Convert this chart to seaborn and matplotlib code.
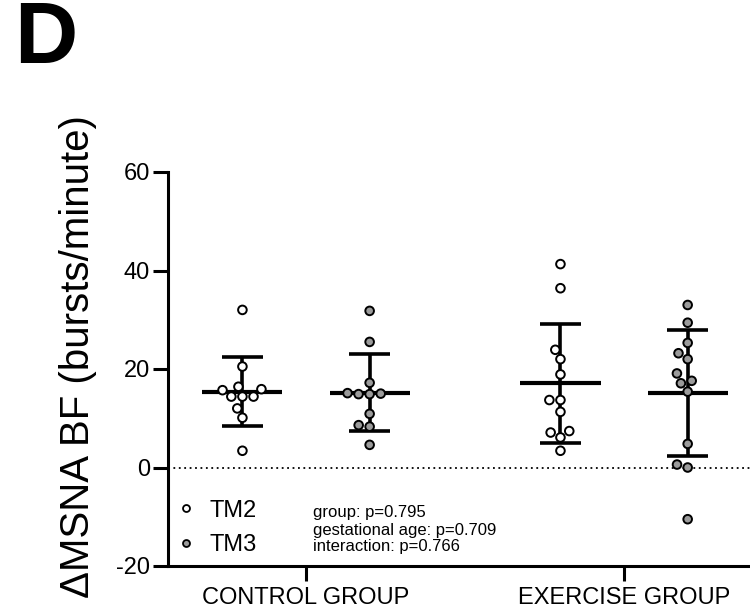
import numpy as np
import pandas as pd
import matplotlib
matplotlib.use("Agg")
import matplotlib.pyplot as plt
from matplotlib.lines import Line2D
import seaborn as sns

# Change in MSNA burst frequency per participant, by group and timepoint
groups = ["CONTROL GROUP", "EXERCISE GROUP"]
timepoints = ["TM2", "TM3"]

control_tm2 = [32.0, 20.5, 15.7, 15.9, 16.4, 14.4, 14.4, 14.4, 12.0, 10.1, 3.4]
control_tm3 = [31.8, 25.5, 17.2, 14.9, 15.0, 14.9, 15.1, 10.9, 8.6, 8.3, 4.6]
exercise_tm2 = [41.3, 36.4, 23.9, 22.0, 18.9, 13.7, 13.7, 11.3, 7.4, 7.1, 6.1, 3.4]
exercise_tm3 = [33.0, 29.4, 25.3, 23.2, 22.0, 19.1, 17.6, 17.1, 15.4, 4.8, 0.6, 0.0, -10.5]

y_ticks = [-20, 0, 20, 40, 60]
stats_lines = ["group: p=0.795", "gestational age: p=0.709", "interaction: p=0.766"]

series = {
    ("CONTROL GROUP", "TM2"): control_tm2,
    ("CONTROL GROUP", "TM3"): control_tm3,
    ("EXERCISE GROUP", "TM2"): exercise_tm2,
    ("EXERCISE GROUP", "TM3"): exercise_tm3,
}
rows = [(g, t, v) for (g, t), vals in series.items() for v in vals]
df = pd.DataFrame(rows, columns=["group", "time", "value"])

sns.set_theme(style="ticks")
plt.rcParams["font.family"] = ["Liberation Sans", "DejaVu Sans"]
plt.rcParams["axes.unicode_minus"] = False
for key in ("text.color", "axes.labelcolor", "xtick.color", "ytick.color", "axes.edgecolor"):
    plt.rcParams[key] = "black"

W, H = 750, 613
fig = plt.figure(figsize=(W / 100, H / 100), dpi=100)
ax = fig.add_axes([168 / W, 1 - 566 / H, 1 - 168 / W, (566 - 172) / H])

fill = {"TM2": "white", "TM3": "#9b9b9b"}

sns.swarmplot(data=df, x="group", y="value", hue="time", order=groups,
              hue_order=timepoints, dodge=True, palette=fill, size=6.2,
              edgecolor="black", linewidth=1.4, legend=False, zorder=3, ax=ax)

# mean +/- SD bars behind the points
dodge = 0.2
for gi, g in enumerate(groups):
    for ti, t in enumerate(timepoints):
        vals = np.asarray(series[(g, t)])
        m, sd = vals.mean(), vals.std(ddof=1)
        x = gi + (-dodge if ti == 0 else dodge)
        ax.vlines(x, m - sd, m + sd, color="black", lw=2.6, zorder=2)
        ax.hlines([m - sd, m + sd], x - 0.064, x + 0.064, color="black", lw=2.6, zorder=2)
        ax.hlines(m, x - 0.126, x + 0.126, color="black", lw=3.0, zorder=2)

ax.axhline(0, color="black", lw=1.3, ls=(0, (1, 2)), zorder=1)

ax.set_xlim(-0.434, 1.396)
ax.set_ylim(-20, 60)
ax.set_yticks(y_ticks)
ax.set_yticklabels([str(v) for v in y_ticks])
ax.set_xlabel("")
ax.set_ylabel("")
sns.despine(ax=ax)
for side in ("left", "bottom"):
    ax.spines[side].set_linewidth(2.2)
    ax.spines[side].set_color("black")
ax.tick_params(axis="both", width=2.2, length=11, labelsize=17, colors="black", direction="out")
ax.tick_params(axis="y", pad=2)
ax.tick_params(axis="x", pad=4)

fig.text(78 / W, 1 - 357 / H, "\u0394MSNA BF (bursts/minute)", rotation=90,
         fontsize=29, ha="center", va="center")
fig.text(14 / W, 1 - 0 / H, "D", fontsize=63, fontweight="bold", ha="left", va="top")

for line, yp in zip(stats_lines, [512, 530, 547]):
    fig.text(313 / W, 1 - yp / H, line, fontsize=12, ha="left", va="center")

handles = [Line2D([], [], ls="none", marker="o", markersize=5, markeredgewidth=1.3,
                  markerfacecolor=fill[t], markeredgecolor="black") for t in timepoints]
ax.legend(handles, timepoints, loc="center left", bbox_to_anchor=(179 / W, 1 - 528 / H),
          bbox_transform=fig.transFigure, frameon=False, fontsize=17, borderpad=0,
          handlelength=0.6, handletextpad=0.7, labelspacing=0.55, borderaxespad=0)

fig.savefig("out.png", dpi=100)
